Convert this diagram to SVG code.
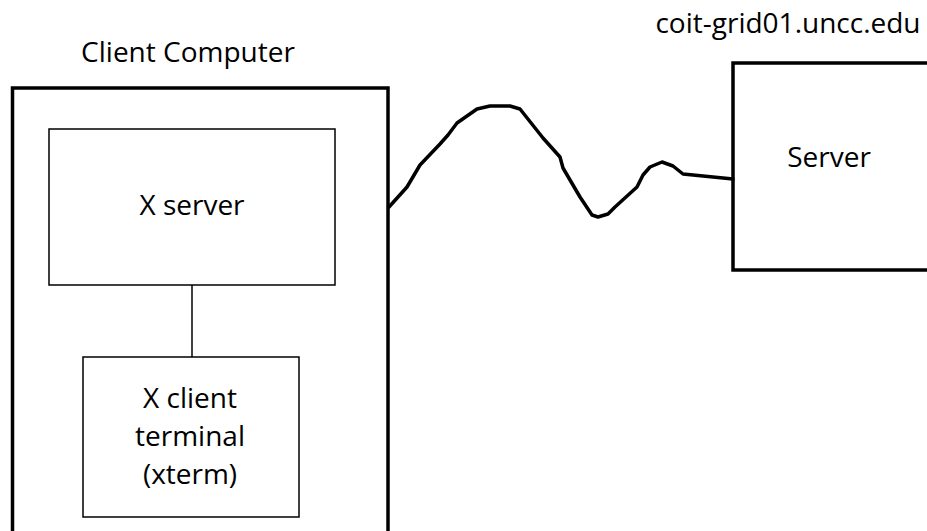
<svg xmlns="http://www.w3.org/2000/svg" width="927" height="531" viewBox="0 0 927 531">
<style>
.lbl{font-family:"Open Sans","Liberation Sans",sans-serif;font-size:28px;fill:#000;text-anchor:middle}
.thick{fill:none;stroke:#000;stroke-width:3.5}
.thin{fill:none;stroke:#000;stroke-width:1.5}
</style>
<rect x="0" y="0" width="927" height="531" fill="#fff"/>
<g id="client-computer">
<rect class="thick" x="12.5" y="88" width="375.5" height="460"/>
<text class="lbl" x="188" y="62">Client Computer</text>
</g>
<g id="x-server">
<rect class="thin" x="49" y="129" width="286" height="156"/>
<text class="lbl" x="192" y="215">X server</text>
</g>
<g id="x-client">
<rect class="thin" x="83" y="357" width="216" height="160"/>
<text class="lbl" x="190" y="408">X client</text>
<text class="lbl" x="190" y="446">terminal</text>
<text class="lbl" x="190" y="484">(xterm)</text>
</g>
<g id="server">
<rect class="thick" x="733" y="63" width="210" height="207"/>
<text class="lbl" x="829" y="167">Server</text>
<text class="lbl" x="788" y="33">coit-grid01.uncc.edu</text>
</g>
<g id="connectors">
<line class="thin" x1="192" y1="285" x2="192" y2="357"/>
<path fill="none" stroke="#000" stroke-width="3.5" stroke-linejoin="round" stroke-linecap="round" d="M389,207 L407,187 L420,165 L440,144 L448,135 L457,123 L477,109 L490,106 L510,106 L520,109 L543,138 L560,157 L563,168 L580,197 L592,215 L598,217 L608,214 L615,207 L637,187 L643,175 L650,167 L662,162 L673,166 L683,174 L713,177 L723,178 L733,179"/>
</g>
</svg>
